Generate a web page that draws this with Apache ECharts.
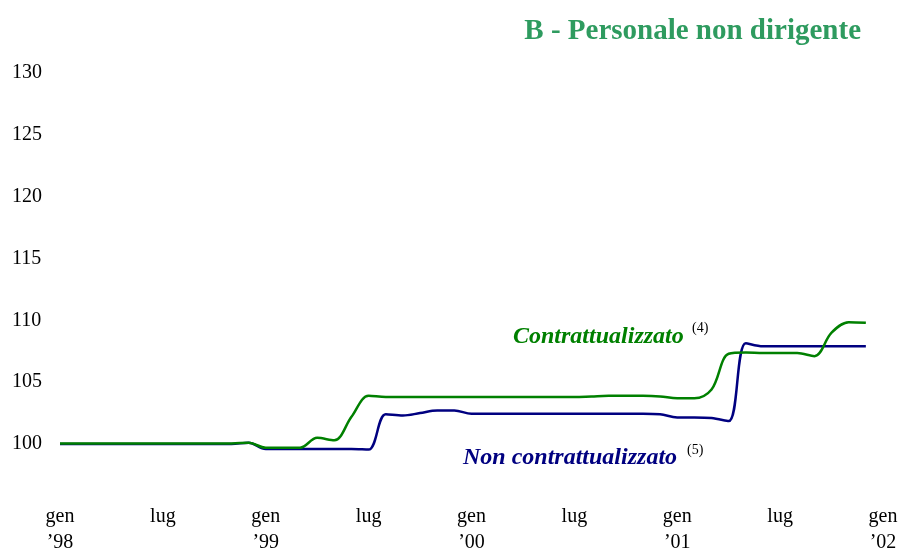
<!DOCTYPE html>
<html><head><meta charset="utf-8">
<script src="https://cdn.jsdelivr.net/npm/echarts@6/dist/echarts.min.js"></script>
<style>html,body{margin:0;padding:0;background:#fff}#c{width:903px;height:550px}</style>
</head><body><div id="c"></div>
<script>
const months = ['gen','feb','mar','apr','mag','giu','lug','ago','set','ott','nov','dic'];
const years = ['98','99','00','01','02'];
const categories = [];
years.forEach((y, yi) => months.forEach((m, mi) => { if (yi < 4 || mi === 0) categories.push(m + '|' + y); }));

const contrattualizzato = [
  100.05,100.05,100.05,100.05,100.05,100.05,100.05,100.05,100.05,100.05,100.05,100.1,
  99.7,99.7,99.7,100.5,100.3,102.2,103.9,103.8,103.8,103.8,103.8,103.8,
  103.8,103.8,103.8,103.8,103.8,103.8,103.8,103.85,103.9,103.9,103.9,103.85,
  103.7,103.7,104.4,107.3,107.4,107.35,107.35,107.35,107.1,109.0,109.85,109.8
];
const nonContrattualizzato = [
  100,100,100,100,100,100,100,100,100,100,100,100.1,
  99.6,99.6,99.6,99.6,99.6,99.6,99.55,102.4,102.3,102.5,102.7,102.7,
  102.45,102.45,102.45,102.45,102.45,102.45,102.45,102.45,102.45,102.45,102.45,102.4,
  102.15,102.15,102.1,101.85,108.15,107.9,107.9,107.9,107.9,107.9,107.9,107.9
];
const yTicks = [100,105,110,115,120,125,130];

const serif = '"Liberation Serif","Times New Roman",serif';
const chart = echarts.init(document.getElementById('c'));
chart.setOption({
  animation: false,
  title: {
    text: 'B - Personale non dirigente',
    right: 37, top: 12,
    textStyle: {fontFamily: serif, fontWeight: 'bold', fontSize: 29, color: '#2e9b5f'}
  },
  grid: {left: 60, right: 20, top: 73, bottom: 106, containLabel: false, outerBoundsMode: 'none'},
  xAxis: {
    type: 'category', data: categories, boundaryGap: false,
    axisLine: {show: false}, axisTick: {show: false}, splitLine: {show: false},
    axisLabel: {
      interval: 5, margin: 60, fontFamily: serif, fontSize: 20, color: '#000', lineHeight: 26,
      formatter: v => { const [m, y] = v.split('|'); return m === 'gen' ? 'gen\n\u2019' + y : m; }
    }
  },
  yAxis: {
    type: 'value', min: yTicks[0], max: yTicks[yTicks.length - 1], interval: 5,
    axisLine: {show: false}, axisTick: {show: false}, splitLine: {show: false},
    axisLabel: {align: 'left', margin: 48, fontFamily: serif, fontSize: 20, color: '#000', padding: [8, 0, 0, 0]}
  },
  series: [
    {name: 'Contrattualizzato', type: 'line', data: contrattualizzato, smooth: 0.35, symbol: 'none', clip: false,
     lineStyle: {color: '#008000', width: 2.5}, z: 3},
    {name: 'Non contrattualizzato', type: 'line', data: nonContrattualizzato, smooth: 0.35, symbol: 'none', clip: false,
     lineStyle: {color: '#000080', width: 2.5}, z: 2}
  ],
  graphic: [
    {type: 'text', left: 513, top: 325, style: {text: 'Contrattualizzato', font: 'italic bold 24px ' + serif, fill: '#008000'}},
    {type: 'text', left: 692, top: 321, style: {text: '(4)', font: '14px ' + serif, fill: '#000'}},
    {type: 'text', left: 463, top: 446, style: {text: 'Non contrattualizzato', font: 'italic bold 24px ' + serif, fill: '#000080'}},
    {type: 'text', left: 687, top: 443, style: {text: '(5)', font: '14px ' + serif, fill: '#000'}}
  ]
});
</script></body></html>
